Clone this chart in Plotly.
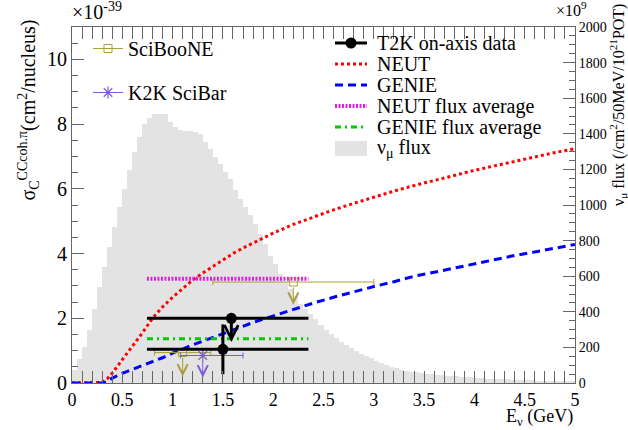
import numpy as np
import plotly.graph_objects as go

# ---------------- data ----------------
# nu_mu flux, 50 MeV bins from 0 to 5 GeV (x10^9 /cm^2/50MeV/10^21 POT)
flux_values = [
    75, 136, 202, 295, 418, 540, 651, 764, 876, 991,
    1091, 1198, 1296, 1382, 1455, 1491, 1509, 1514, 1509, 1464,
    1436, 1422, 1418, 1414, 1409, 1400, 1353, 1314, 1269, 1231,
    1184, 1147, 1082, 1034, 987, 942, 894, 838, 782, 716,
    669, 613, 567, 527, 491, 445, 418, 385, 358, 327,
    300, 273, 251, 231, 213, 195, 178, 164, 151, 138,
    124, 111, 100, 89, 82, 75, 69, 64, 60, 56,
    53, 49, 45, 44, 42, 40, 38, 35, 33, 31,
    29, 27, 25, 24, 23, 22, 20, 18, 17, 16,
    15, 15, 14, 13, 12, 11, 10, 9, 9, 8,
]
flux_bin_width = 0.05
flux_centers = [round(flux_bin_width * (i + 0.5), 4) for i in range(len(flux_values))]

# NEUT prediction (x1e-39 cm^2/nucleus)
neut_E = [0, 0.1, 0.2, 0.3, 0.35, 0.4, 0.5, 0.6, 0.7, 0.8, 0.9, 1.0, 1.1, 1.2, 1.3,
          1.4, 1.5, 1.6, 1.7, 1.8, 1.9, 2.0, 2.2, 2.4, 2.6, 2.8, 3.0, 3.2, 3.4, 3.6, 3.8,
          4.0, 4.2, 4.4, 4.6, 4.8, 5.0]
neut_xs = [0, 0, 0, 0.02, 0.13, 0.3, 0.72, 1.12, 1.55, 2.0, 2.35, 2.65, 2.93, 3.18, 3.4,
           3.6, 3.8, 4.0, 4.17, 4.33, 4.48, 4.63, 4.9, 5.13, 5.35, 5.55, 5.75, 5.93, 6.1, 6.26, 6.42,
           6.57, 6.71, 6.85, 6.99, 7.12, 7.24]

# GENIE prediction
genie_E = [0, 0.1, 0.2, 0.3, 0.35, 0.4, 0.5, 0.6, 0.7, 0.8, 0.9, 1.0, 1.1, 1.2, 1.3, 1.4,
           1.5, 1.6, 1.7, 1.8, 1.9, 2.0, 2.2, 2.4, 2.6, 2.8, 3.0, 3.2, 3.4, 3.6, 3.8, 4.0,
           4.2, 4.4, 4.6, 4.8, 5.0]
genie_xs = [0, 0, 0, 0, 0.05, 0.15, 0.3, 0.42, 0.53, 0.66, 0.78, 0.92, 1.06, 1.18, 1.29, 1.41,
            1.53, 1.65, 1.76, 1.87, 1.97, 2.07, 2.28, 2.47, 2.65, 2.82, 2.98, 3.13, 3.3, 3.42, 3.55, 3.7,
            3.82, 3.94, 4.05, 4.17, 4.28]

# flux-averaged predictions over the T2K energy range
avg_range = [0.745, 2.35]
neut_avg = 3.22
genie_avg = 1.37

# T2K on-axis data
t2k_E = [1.5, 1.584]
t2k_xs = [1.04, 2.0]
t2k_E_lo = [0.745, 0.745]
t2k_E_hi = [2.35, 2.35]
t2k_err = [0.77, 0.0]
t2k_limit_to = [None, 1.27]

# SciBooNE upper limits
sb_E = [1.1, 2.2]
sb_xs = [0.94, 3.12]
sb_E_lo = [0.82, 1.4]
sb_E_hi = [1.38, 3.0]
sb_limit_to = [0.2, 2.42]

# K2K SciBar upper limit
k2k_E = [1.3]
k2k_xs = [0.85]
k2k_E_lo = [1.08]
k2k_E_hi = [1.70]
k2k_limit_to = [0.17]

# ---------------- style ----------------
FONT = "Liberation Serif, Tinos, Times New Roman, Times, DejaVu Serif, serif"
OLIVE = "#a89f3c"
PURPLE = "#7b5cd6"
FLUXGRAY = "#e3e3e3"
RED = "#ff0000"
BLUE = "#0000ff"
MAGENTA = "#e020e0"
GREEN = "#00cc00"
NEUT_DASH = "dot"
GENIE_DASH = "8px,5px"
NAVG_DASH = "2px,1.5px"
GAVG_DASH = "6px,4px,2px,4px"

# plot-area geometry (pixels)
ML, MR, MT, MB = 72, 53, 27, 47
W, H = 628, 430
PW, PH = W - ML - MR, H - MT - MB


def px2x(px):
    return (px - ML) / PW


def px2y(py):
    return (H - MB - py) / PH


fig = go.Figure()

# flux histogram on the base axis (drawn underneath the overlaying axis)
fig.add_trace(go.Bar(
    x=flux_centers, y=flux_values, width=flux_bin_width,
    marker=dict(color=FLUXGRAY, line=dict(width=0)),
    yaxis="y", name="ν<sub>μ</sub> flux", showlegend=False,
))

# model curves
fig.add_trace(go.Scatter(x=neut_E, y=neut_xs, yaxis="y2", mode="lines", name="NEUT",
                         line=dict(color=RED, width=3, dash=NEUT_DASH), showlegend=False))
fig.add_trace(go.Scatter(x=genie_E, y=genie_xs, yaxis="y2", mode="lines", name="GENIE",
                         line=dict(color=BLUE, width=3, dash=GENIE_DASH), showlegend=False))
fig.add_trace(go.Scatter(x=avg_range, y=[neut_avg, neut_avg], yaxis="y2", mode="lines",
                         name="NEUT flux average",
                         line=dict(color=MAGENTA, width=4, dash=NAVG_DASH), showlegend=False))
fig.add_trace(go.Scatter(x=avg_range, y=[genie_avg, genie_avg], yaxis="y2", mode="lines",
                         name="GENIE flux average",
                         line=dict(color=GREEN, width=3, dash=GAVG_DASH), showlegend=False))

# SciBooNE
fig.add_trace(go.Scatter(
    x=sb_E, y=sb_xs, yaxis="y2", mode="markers", name="SciBooNE",
    marker=dict(symbol="square-open", size=8, color=OLIVE, line=dict(width=1, color=OLIVE)),
    error_x=dict(type="data", symmetric=False,
                 array=[h - e for h, e in zip(sb_E_hi, sb_E)],
                 arrayminus=[e - l for e, l in zip(sb_E, sb_E_lo)],
                 color=OLIVE, thickness=1, width=3),
    showlegend=False))
# K2K
fig.add_trace(go.Scatter(
    x=k2k_E, y=k2k_xs, yaxis="y2", mode="markers", name="K2K SciBar",
    marker=dict(symbol="asterisk-open", size=10, color=PURPLE, line=dict(width=1.2, color=PURPLE)),
    error_x=dict(type="data", symmetric=False,
                 array=[h - e for h, e in zip(k2k_E_hi, k2k_E)],
                 arrayminus=[e - l for e, l in zip(k2k_E, k2k_E_lo)],
                 color=PURPLE, thickness=1, width=3),
    showlegend=False))
# T2K
fig.add_trace(go.Scatter(
    x=t2k_E, y=t2k_xs, yaxis="y2", mode="markers", name="T2K on-axis data",
    marker=dict(symbol="circle", size=11, color="black"),
    error_x=dict(type="data", symmetric=False,
                 array=[h - e for h, e in zip(t2k_E_hi, t2k_E)],
                 arrayminus=[e - l for e, l in zip(t2k_E, t2k_E_lo)],
                 color="black", thickness=3, width=0),
    error_y=dict(type="data", array=t2k_err, color="black", thickness=3, width=0),
    showlegend=False))

# legend (left box) entries: SciBooNE, K2K
fig.add_trace(go.Scatter(x=[None], y=[None], yaxis="y2", mode="lines+markers", name="SciBooNE",
                         line=dict(color=OLIVE, width=1),
                         marker=dict(symbol="square-open", size=8, color=OLIVE),
                         legendgroup="a"))
fig.add_trace(go.Scatter(x=[None], y=[None], yaxis="y2", mode="lines+markers", name="K2K SciBar",
                         line=dict(color=PURPLE, width=1),
                         marker=dict(symbol="asterisk-open", size=10, color=PURPLE,
                                     line=dict(width=1.2, color=PURPLE)),
                         legendgroup="b"))

annotations = []
shapes = []
# upper-limit arrows
for E, y0, y1 in zip(t2k_E, t2k_xs, t2k_limit_to):
    if y1 is None:
        continue
    annotations.append(dict(x=E, y=y1, ax=E, ay=y0, xref="x", yref="y2", axref="x", ayref="y2",
                            showarrow=True, arrowhead=5, arrowsize=0.9, arrowwidth=3,
                            arrowcolor="black", text="", standoff=0, startstandoff=0))
for E, y0, y1 in zip(sb_E, sb_xs, sb_limit_to):
    annotations.append(dict(x=E, y=y1, ax=E, ay=y0, xref="x", yref="y2", axref="x", ayref="y2",
                            showarrow=True, arrowhead=5, arrowsize=2, arrowwidth=1,
                            arrowcolor=OLIVE, text="", standoff=0, startstandoff=4))
for E, y0, y1 in zip(k2k_E, k2k_xs, k2k_limit_to):
    annotations.append(dict(x=E, y=y1, ax=E, ay=y0, xref="x", yref="y2", axref="x", ayref="y2",
                            showarrow=True, arrowhead=5, arrowsize=2, arrowwidth=1,
                            arrowcolor=PURPLE, text="", standoff=0, startstandoff=4))

# right-hand legend box (keys + labels, ROOT-like spacing)
leg_labels = ["T2K on-axis data", "NEUT", "GENIE", "NEUT flux average",
              "GENIE flux average", "ν<sub>μ</sub> flux"]
leg_x0, leg_x1, leg_tx = 335, 367, 375
leg_top, leg_step = 43, 21
line_keys = [("black", 3, "solid"), (RED, 3, NEUT_DASH), (BLUE, 3, GENIE_DASH),
             (MAGENTA, 4, NAVG_DASH), (GREEN, 3, GAVG_DASH)]
for i, lab in enumerate(leg_labels):
    yc = leg_top + leg_step * i
    annotations.append(dict(text=lab, xref="paper", yref="paper", x=px2x(leg_tx), y=px2y(yc),
                            xanchor="left", yanchor="middle", showarrow=False,
                            font=dict(family=FONT, size=20, color="black")))
    if i < len(line_keys):
        c, w, d = line_keys[i]
        shapes.append(dict(type="line", xref="paper", yref="paper",
                           x0=px2x(leg_x0), x1=px2x(leg_x1), y0=px2y(yc), y1=px2y(yc),
                           line=dict(color=c, width=w, dash=d)))
    else:
        shapes.append(dict(type="rect", xref="paper", yref="paper",
                           x0=px2x(leg_x0), x1=px2x(leg_x1), y0=px2y(yc - 7), y1=px2y(yc + 8),
                           fillcolor=FLUXGRAY, line=dict(width=0), layer="above"))
# T2K legend dot
yc = leg_top
xc = (leg_x0 + leg_x1) / 2
shapes.append(dict(type="circle", xref="paper", yref="paper",
                   x0=px2x(xc - 5.5), x1=px2x(xc + 5.5), y0=px2y(yc - 5.5), y1=px2y(yc + 5.5),
                   fillcolor="black", line=dict(color="black", width=0)))

# titles & exponents
annotations += [
    dict(text="σ<sub>C</sub><sup>CCcoh.π</sup>(cm<sup>2</sup>/nucleus)", textangle=-90,
         xref="paper", yref="paper", x=px2x(28), y=px2y(18), xanchor="center", yanchor="top",
         showarrow=False, font=dict(family=FONT, size=20, color="black")),
    dict(text="ν<sub>μ</sub> flux (/cm<sup>2</sup>/50MeV/10<sup>21</sup>POT)", textangle=-90,
         xref="paper", yref="paper", x=px2x(618), y=px2y(2), xanchor="center", yanchor="top",
         showarrow=False, font=dict(family=FONT, size=16, color="black")),
    dict(text="E<sub>ν</sub> (GeV)", xref="paper", yref="paper", x=px2x(575), y=px2y(431),
         xanchor="right", yanchor="bottom", showarrow=False,
         font=dict(family=FONT, size=18, color="black")),
    dict(text="×10<sup>-39</sup>", xref="paper", yref="paper", x=px2x(70), y=px2y(25),
         xanchor="left", yanchor="bottom", showarrow=False,
         font=dict(family=FONT, size=20, color="black")),
    dict(text="×10<sup>9</sup>", xref="paper", yref="paper", x=px2x(554), y=px2y(21),
         xanchor="left", yanchor="bottom", showarrow=False,
         font=dict(family=FONT, size=16, color="black")),
]

AXC = "#666"
axis_common = dict(showline=True, linecolor=AXC, linewidth=1, ticks="inside",
                   tickcolor=AXC, showgrid=False, zeroline=False)

fig.update_layout(
    width=W, height=H,
    margin=dict(l=ML, r=MR, t=MT, b=MB),
    paper_bgcolor="white", plot_bgcolor="white",
    bargap=0,
    font=dict(family=FONT, color="black"),
    xaxis=dict(range=[0, 5], dtick=0.5, tick0=0, ticklen=12, mirror="allticks",
               tickfont=dict(family=FONT, size=18, color="black"),
               minor=dict(dtick=0.1, ticklen=6, ticks="inside", tickcolor=AXC),
               **axis_common),
    yaxis=dict(range=[0, 2000], side="right", dtick=200, ticklen=12,
               tickfont=dict(family=FONT, size=14, color="black"),
               minor=dict(dtick=50, ticklen=6, ticks="inside", tickcolor=AXC),
               **axis_common),
    yaxis2=dict(range=[0, 11], side="left", overlaying="y", dtick=2, ticklen=12,
                tickfont=dict(family=FONT, size=20, color="black"),
                minor=dict(dtick=0.5, ticklen=6, ticks="inside", tickcolor=AXC),
                **axis_common),
    legend=dict(x=px2x(88), y=px2y(29), xanchor="left", yanchor="top", bgcolor="rgba(0,0,0,0)",
                font=dict(family=FONT, size=20, color="black"), tracegroupgap=15,
                itemwidth=30),
    annotations=annotations,
    shapes=shapes,
)

fig.write_html("out.html")
